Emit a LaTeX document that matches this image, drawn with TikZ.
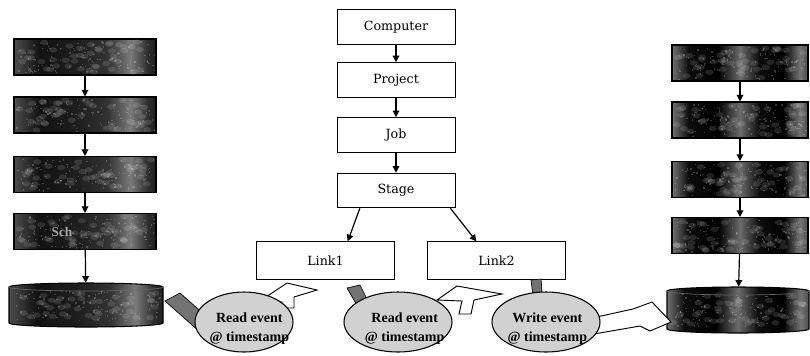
\documentclass[tikz,border=0pt]{standalone}
\usepackage{fontspec}
\setmainfont{Liberation Serif}
\newfontfamily\labelfont{DejaVu Serif}
\usetikzlibrary{arrows.meta,shapes.geometric}

% mottled dark fills for the obscured hierarchies
\pgfdeclarehorizontalshading{darkleft}{100bp}{%
  color(0bp)=(black!70); color(25bp)=(black!70); color(34bp)=(black!93);
  color(48bp)=(black!88); color(58bp)=(black!80); color(66bp)=(black!52);
  color(72bp)=(black!82); color(75bp)=(black!88); color(100bp)=(black!88)}
\pgfdeclarehorizontalshading{darkright}{100bp}{%
  color(0bp)=(black!55); color(25bp)=(black!55); color(31bp)=(black!95);
  color(42bp)=(black); color(50bp)=(black!58); color(57bp)=(black!95);
  color(66bp)=(black); color(72bp)=(black!55); color(75bp)=(black!70);
  color(100bp)=(black!70)}

% light grain scattered over a dark block: centre x, centre y, half width, half height
\newcommand{\grainblock}[4]{%
  \foreach \k in {1,...,45}{%
    \fill[white,opacity=0.12] ({#1+(#3-4)*rand},{#2+(#4-3)*rand}) ellipse[x radius=3pt,y radius=2pt];
  }%
  \foreach \k in {1,...,110}{%
    \fill[white,opacity=0.2] ({#1+(#3-2)*rand},{#2+(#4-2)*rand}) rectangle ++(1.4,1.4);
  }}

\begin{document}
\begin{tikzpicture}[x=0.75pt,y=-0.75pt,
  lbox/.style={draw=black,line width=0.7pt,fill=white,inner sep=0pt,
    minimum height=26pt,font=\labelfont\fontsize{9.5}{12}\selectfont},
  dleft/.style={draw=black,line width=0.8pt,shading=darkleft,inner sep=0pt,
    minimum width=106.5pt,minimum height=27pt},
  dright/.style={draw=black,line width=0.8pt,shading=darkright,inner sep=0pt,
    minimum width=102pt,minimum height=27pt},
  cylbody/.style={inner sep=0pt},
  arr/.style={line width=0.9pt,-{Triangle[width=5pt,length=5pt]}},
  evt/.style={ellipse,draw=black,line width=0.8pt,fill=black!18,inner sep=0pt,
    minimum height=45pt},
  evtext/.style={align=center,inner sep=0pt,
    font=\bfseries\fontsize{10.5}{14}\selectfont},
  blockarrow/.style={draw=black,line width=0.7pt,fill=white,line join=miter},
  band/.style={draw=black,line width=0.5pt,fill=black!55},
]
\useasboundingbox (0,0) rectangle (810,355);
\pgfmathsetseed{7}

% ---- centre hierarchy ----
\node[lbox,minimum width=88.5pt] (comp) at (396,27) {Computer};
\node[lbox,minimum width=88.5pt] (proj) at (396,80) {Project};
\node[lbox,minimum width=88.5pt] (job)  at (396,135) {Job};
\node[lbox,minimum width=88.5pt] (stage) at (396,190.5) {Stage};
\node[lbox,minimum width=104pt,minimum height=28pt] (link1) at (325.5,260.5) {Link1};
\node[lbox,minimum width=103pt,minimum height=28pt] (link2) at (496.5,260.5) {Link2};

\draw[arr] (comp) -- (proj);
\draw[arr] (proj) -- (job);
\draw[arr] (job) -- (stage);
\draw[arr] ([xshift=17.5pt]stage.south west) -- ([xshift=69pt]link1.north west);
\draw[arr] ([xshift=-3.75pt]stage.south east) -- ([xshift=36.75pt]link2.north west);

% ---- left hierarchy ----
\node[dleft] (la) at (85,57) {};
\node[dleft] (lb) at (85,115) {};
\node[dleft] (lc) at (85,174.5) {};
\node[dleft] (ld) at (85,231.5) {};
\grainblock{85}{57}{71}{18}
\grainblock{85}{115}{71}{18}
\grainblock{85}{174.5}{71}{18}
\grainblock{85}{231.5}{71}{18}
\node[text=black!35,font=\bfseries\fontsize{10}{12}\selectfont] (ldtext) at (62,232) {Sch};
\node[cylbody,minimum width=115.5pt,minimum height=33pt] (lcyl) at (86,305) {};
\path[draw=black,line width=0.8pt,shading=darkleft]
  (9,287) -- (9,323) arc[start angle=180,end angle=360,x radius=57.75pt,y radius=3pt]
  -- (163,287) arc[start angle=0,end angle=180,x radius=57.75pt,y radius=3pt] -- cycle;
\grainblock{86}{305}{76}{17}
\draw[line width=0.5pt,black!60] (9,287) arc[start angle=180,end angle=360,x radius=57.75pt,y radius=3pt];

\draw[arr] (la) -- (lb);
\draw[arr] (lb) -- (lc);
\draw[arr] (lc) -- (ld);
\draw[arr] (ld) -- (lcyl);

% ---- right hierarchy ----
\node[dright] (ra) at (740,63) {};
\node[dright] (rb) at (740,120) {};
\node[dright] (rc) at (740,179.5) {};
\node[dright] (rd) at (740,235.5) {};
\grainblock{740}{63}{68}{18}
\grainblock{740}{120}{68}{18}
\grainblock{740}{179.5}{68}{18}
\grainblock{740}{235.5}{68}{18}
\node[cylbody,minimum width=106.5pt,minimum height=34.5pt] (rcyl) at (738,310) {};
\path[draw=black,line width=0.8pt,shading=darkright]
  (667,291) -- (667,329) arc[start angle=180,end angle=360,x radius=53.25pt,y radius=3pt]
  -- (809,291) arc[start angle=0,end angle=180,x radius=53.25pt,y radius=3pt] -- cycle;
\grainblock{738}{310}{70}{18}
\draw[line width=0.5pt,black!60] (667,291) arc[start angle=180,end angle=360,x radius=53.25pt,y radius=3pt];

\draw[arr] (ra) -- (rb);
\draw[arr] (rb) -- (rc);
\draw[arr] (rc) -- (rd);
\draw[arr] (rd) -- (rcyl);

% ---- event flows ----
\draw[band] (165,301) -- (180,293) -- (206,316) -- (200,332) -- cycle;
\draw[band] (347,288) -- (360,285) -- (372,309) -- (362,314) -- cycle;
\draw[band] (531,280) -- (541,279) -- (543,303) -- (534,304) -- cycle;

\draw[blockarrow] (287,283) -- (317,290) -- (294,297) -- (294,308) -- (281,308)
  -- (282,302) -- (257,303) -- cycle;
\draw[blockarrow] (457,286) -- (502,294) -- (474,300) -- (471,314) -- (459,314)
  -- (462,301) -- (437,300) -- cycle;
\draw[blockarrow] (592,318) -- (633,309) -- (652,302) -- (671,322) -- (650,331)
  -- (640,326) -- (594,334) -- cycle;

\node[evt,minimum width=73.5pt] (ev1) at (244,322) {};
\node[evt,minimum width=81pt] (ev2) at (398,322) {};
\node[evt,minimum width=81pt] (ev3) at (546,322) {};
\node[evtext] (ev1t) at ([xshift=4pt,yshift=-5pt]ev1.center) {Read event\\@ timestamp};
\node[evtext] (ev2t) at ([xshift=5pt,yshift=-5pt]ev2.center) {Read event\\@ timestamp};
\node[evtext] (ev3t) at ([xshift=1pt,yshift=-5pt]ev3.center) {Write event\\@ timestamp};
\end{tikzpicture}
\end{document}
